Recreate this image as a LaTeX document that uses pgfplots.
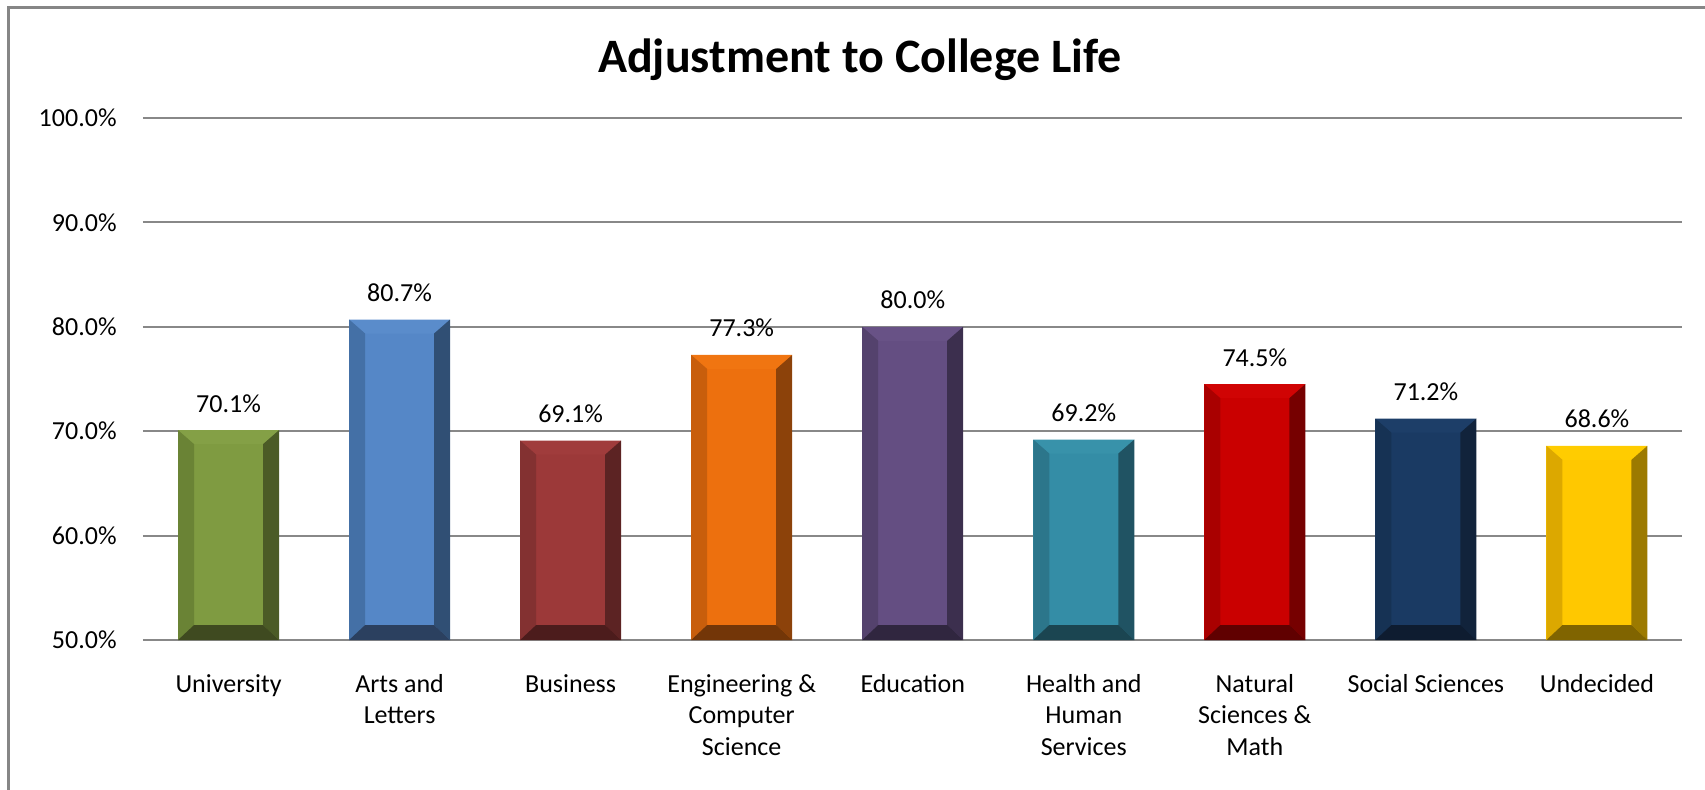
\documentclass[border=0pt]{standalone}
\usepackage{fontspec}
\setmainfont{Carlito}
\usepackage{pgfplots}
\pgfplotsset{compat=1.18}

\newcommand\lbl{\fontsize{13}{15.8}\selectfont}

% face, top bevel, left bevel, right bevel, bottom bevel
\definecolor{uniF}{HTML}{7F9B41}\definecolor{uniT}{HTML}{84A046}\definecolor{uniL}{HTML}{6A8335}\definecolor{uniR}{HTML}{4B5B26}\definecolor{uniB}{HTML}{3F4A20}
\definecolor{artF}{HTML}{5587C7}\definecolor{artT}{HTML}{5A8CCB}\definecolor{artL}{HTML}{4470A6}\definecolor{artR}{HTML}{304F74}\definecolor{artB}{HTML}{2B405F}
\definecolor{busF}{HTML}{9C3939}\definecolor{busT}{HTML}{A03C3C}\definecolor{busL}{HTML}{833131}\definecolor{busR}{HTML}{5C2323}\definecolor{busB}{HTML}{4C1C1C}
\definecolor{engF}{HTML}{ED700E}\definecolor{engT}{HTML}{F07511}\definecolor{engL}{HTML}{C85E0C}\definecolor{engR}{HTML}{8C420A}\definecolor{engB}{HTML}{733608}
\definecolor{eduF}{HTML}{644E82}\definecolor{eduT}{HTML}{685286}\definecolor{eduL}{HTML}{54426D}\definecolor{eduR}{HTML}{3C2F4E}\definecolor{eduB}{HTML}{30263F}
\definecolor{hhsF}{HTML}{348DA6}\definecolor{hhsT}{HTML}{3892AA}\definecolor{hhsL}{HTML}{2C768B}\definecolor{hhsR}{HTML}{205363}\definecolor{hhsB}{HTML}{1B4551}
\definecolor{natF}{HTML}{CA0000}\definecolor{natT}{HTML}{D00404}\definecolor{natL}{HTML}{A90000}\definecolor{natR}{HTML}{760000}\definecolor{natB}{HTML}{600000}
\definecolor{socF}{HTML}{1A3A63}\definecolor{socT}{HTML}{1D3E68}\definecolor{socL}{HTML}{163254}\definecolor{socR}{HTML}{11233B}\definecolor{socB}{HTML}{0E1C30}
\definecolor{undF}{HTML}{FFC800}\definecolor{undT}{HTML}{FFCC00}\definecolor{undL}{HTML}{DCA800}\definecolor{undR}{HTML}{9C7A00}\definecolor{undB}{HTML}{806400}
\definecolor{gridgray}{HTML}{888888}
\definecolor{framegray}{HTML}{868686}

% bevel drawn with the basic layer, inside the bar's path picture
\newdimen\bvxa \newdimen\bvya \newdimen\bvxb \newdimen\bvyb
\newdimen\bvxc \newdimen\bvyc \newdimen\bvxd \newdimen\bvyd
\newcommand\bvquad[9]{%
  \pgfsetfillcolor{#1}%
  \pgfpathmoveto{\pgfqpoint{#2}{#3}}%
  \pgfpathlineto{\pgfqpoint{#4}{#5}}%
  \pgfpathlineto{\pgfqpoint{#6}{#7}}%
  \pgfpathlineto{\pgfqpoint{#8}{#9}}%
  \pgfpathclose
  \pgfusepath{fill}}
\newcommand\bvdraw[4]{% top, left, right, bottom
  \pgfextractx{\bvxa}{\pgfpointanchor{path picture bounding box}{south west}}%
  \pgfextracty{\bvya}{\pgfpointanchor{path picture bounding box}{south west}}%
  \pgfextractx{\bvxb}{\pgfpointanchor{path picture bounding box}{north east}}%
  \pgfextracty{\bvyb}{\pgfpointanchor{path picture bounding box}{north east}}%
  \bvxc=\dimexpr\bvxa+8pt\relax \bvxd=\dimexpr\bvxb-8pt\relax
  \bvyc=\dimexpr\bvya+7.5pt\relax \bvyd=\dimexpr\bvyb-7pt\relax
  \bvquad{#1}{\bvxa}{\bvyb}{\bvxb}{\bvyb}{\bvxd}{\bvyd}{\bvxc}{\bvyd}%
  \bvquad{#2}{\bvxa}{\bvya}{\bvxa}{\bvyb}{\bvxc}{\bvyd}{\bvxc}{\bvyc}%
  \bvquad{#3}{\bvxb}{\bvya}{\bvxb}{\bvyb}{\bvxd}{\bvyd}{\bvxd}{\bvyc}%
  \bvquad{#4}{\bvxa}{\bvya}{\bvxb}{\bvya}{\bvxd}{\bvyc}{\bvxc}{\bvyc}}

\tikzset{
  bevel/.style n args={5}{fill=#1, draw=none, path picture={\bvdraw{#2}{#3}{#4}{#5}}}
}

\begin{document}
\begin{tikzpicture}
\path[use as bounding box] (0,0) rectangle (852.5pt,394.5pt);
\draw[draw=framegray, line width=1.2pt] (4.2pt,-10pt) -- (4.2pt,390.7pt) -- (870pt,390.7pt);
\begin{axis}[
    at={(71.5pt,74.5pt)}, anchor=south west,
    scale only axis, width=769.75pt, height=261pt,
    xmin=-0.5, xmax=8.5, ymin=0, ymax=50,
    y filter/.expression={y-50},
    axis line style={draw=none},
    major tick length=0pt,
    ymajorgrids, grid style={draw=gridgray, line width=1pt},
    ytick={0,10,20,30,40,50},
    yticklabels={50.0\%,60.0\%,70.0\%,80.0\%,90.0\%,100.0\%},
    yticklabel style={font=\lbl, inner sep=0pt, xshift=-13pt},
    xtick={0,...,8},
    xticklabels={\strut University, \strut Arts and\\Letters, \strut Business,
      \strut Engineering \&\\Computer\\Science, \strut Education,
      \strut Health and\\Human\\Services, \strut Natural\\Sciences \&\\Math,
      \strut Social Sciences, \strut Undecided},
    xticklabel style={font=\lbl, align=center, inner sep=0pt, anchor=north, yshift=-14.9pt},
    title={Adjustment to College Life},
    title style={at={(0.4657,1.0906)}, anchor=base, yshift=-7pt, inner sep=0pt, font=\bfseries\fontsize{24}{28}\selectfont},
    /pgf/number format/assume math mode=true,
    bar width=50.5pt,
  ]
\addplot[ybar, bar shift=0pt, bevel={uniF}{uniT}{uniL}{uniR}{uniB}] coordinates {(0,70.1)};
\addplot[ybar, bar shift=0pt, bevel={artF}{artT}{artL}{artR}{artB}] coordinates {(1,80.7)};
\addplot[ybar, bar shift=0pt, bevel={busF}{busT}{busL}{busR}{busB}] coordinates {(2,69.1)};
\addplot[ybar, bar shift=0pt, bevel={engF}{engT}{engL}{engR}{engB}] coordinates {(3,77.3)};
\addplot[ybar, bar shift=0pt, bevel={eduF}{eduT}{eduL}{eduR}{eduB}] coordinates {(4,80.0)};
\addplot[ybar, bar shift=0pt, bevel={hhsF}{hhsT}{hhsL}{hhsR}{hhsB}] coordinates {(5,69.2)};
\addplot[ybar, bar shift=0pt, bevel={natF}{natT}{natL}{natR}{natB}] coordinates {(6,74.5)};
\addplot[ybar, bar shift=0pt, bevel={socF}{socT}{socL}{socR}{socB}] coordinates {(7,71.2)};
\addplot[ybar, bar shift=0pt, bevel={undF}{undT}{undL}{undR}{undB}] coordinates {(8,68.6)};
% value labels
\addplot[draw=none, mark=none, point meta=rawy,
    nodes near coords={\pgfmathprintnumber[fixed,fixed zerofill,precision=1]{\pgfplotspointmeta}\%},
    every node near coord/.append style={font=\lbl, text=black, inner sep=0pt, anchor=south, yshift=8.7pt}]
  coordinates {(0,70.1) (1,80.7) (2,69.1) (3,77.3) (4,80.0) (5,69.2) (6,74.5) (7,71.2) (8,68.6)};
\end{axis}
\end{tikzpicture}
\end{document}
